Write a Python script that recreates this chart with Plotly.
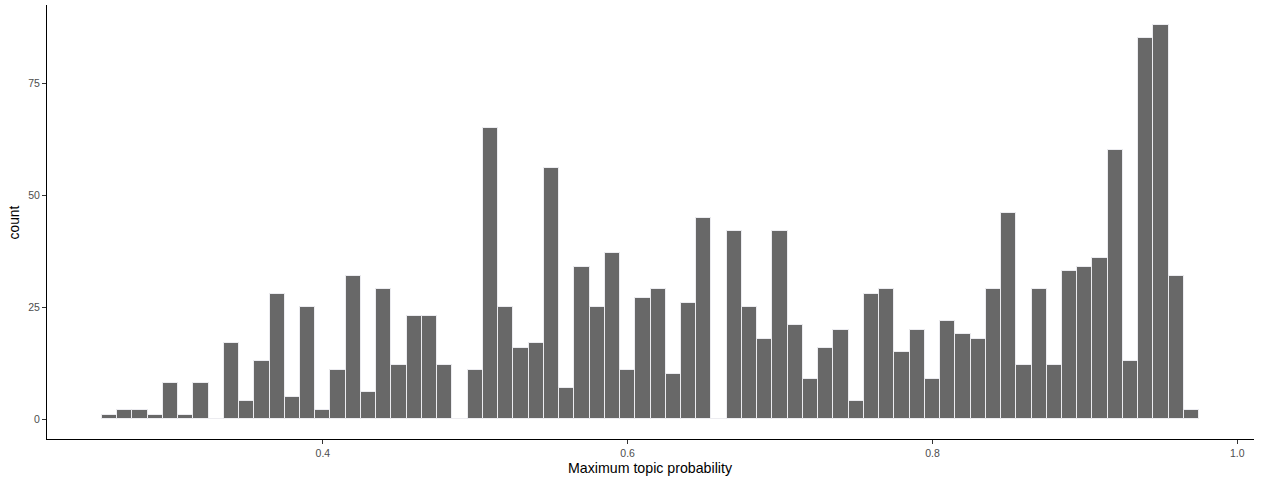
import plotly.graph_objects as go

# Bin centres (bin width 0.01) and counts
bin_centers = [0.26, 0.27, 0.28, 0.29, 0.30, 0.31, 0.32, 0.33, 0.34, 0.35,
               0.36, 0.37, 0.38, 0.39, 0.40, 0.41, 0.42, 0.43, 0.44, 0.45,
               0.46, 0.47, 0.48, 0.49, 0.50, 0.51, 0.52, 0.53, 0.54, 0.55,
               0.56, 0.57, 0.58, 0.59, 0.60, 0.61, 0.62, 0.63, 0.64, 0.65,
               0.66, 0.67, 0.68, 0.69, 0.70, 0.71, 0.72, 0.73, 0.74, 0.75,
               0.76, 0.77, 0.78, 0.79, 0.80, 0.81, 0.82, 0.83, 0.84, 0.85,
               0.86, 0.87, 0.88, 0.89, 0.90, 0.91, 0.92, 0.93, 0.94, 0.95,
               0.96, 0.97]
counts = [1, 2, 2, 1, 8, 1, 8, 0, 17, 4,
          13, 28, 5, 25, 2, 11, 32, 6, 29, 12,
          23, 23, 12, 0, 11, 65, 25, 16, 17, 56,
          7, 34, 25, 37, 11, 27, 29, 10, 26, 45,
          0, 42, 25, 18, 42, 21, 9, 16, 20, 4,
          28, 29, 15, 20, 9, 22, 19, 18, 29, 46,
          12, 29, 12, 33, 34, 36, 60, 13, 85, 88,
          32, 2]
bin_width = 0.01

x_ticks = [0.4, 0.6, 0.8, 1.0]
x_tick_text = ["0.4", "0.6", "0.8", "1.0"]
y_ticks = [0, 25, 50, 75]
y_tick_text = ["0", "25", "50", "75"]

x_title = "Maximum topic probability"
y_title = "count"

FONT = "Liberation Sans, Arial, Helvetica, sans-serif"

fig = go.Figure()
fig.add_trace(go.Bar(
    x=bin_centers,
    y=counts,
    width=bin_width,
    marker=dict(color="#686868", line=dict(color="#ECECF0", width=1)),
    hoverinfo="x+y",
    showlegend=False,
))

axis_common = dict(
    tickmode="array",
    ticks="outside",
    ticklen=4,
    tickwidth=1,
    tickcolor="#333333",
    tickfont=dict(family=FONT, size=10.5, color="#4D4D4D"),
    showline=True,
    linecolor="#000000",
    linewidth=1.1,
    showgrid=False,
    zeroline=False,
    automargin=False,
)

fig.update_layout(
    width=1262,
    height=477,
    autosize=False,
    margin=dict(l=47, r=8, t=5, b=38, pad=0, autoexpand=False),
    paper_bgcolor="white",
    plot_bgcolor="white",
    bargap=0,
    font=dict(family=FONT, color="#000000"),
    xaxis=dict(range=[0.219, 1.011], tickvals=x_ticks, ticktext=x_tick_text,
               **axis_common),
    yaxis=dict(range=[-4.4, 92.4], tickvals=y_ticks, ticktext=y_tick_text,
               **axis_common),
    annotations=[
        dict(text=x_title, xref="paper", yref="paper", x=0.5, y=-0.066,
             xanchor="center", yanchor="middle", showarrow=False,
             font=dict(family=FONT, size=14.2, color="#000000")),
        dict(text=y_title, xref="paper", yref="paper", x=-0.027, y=0.5,
             xanchor="center", yanchor="middle", showarrow=False, textangle=-90,
             font=dict(family=FONT, size=13.8, color="#000000")),
    ],
)

fig.write_html(
    "out.html",
    config={"displayModeBar": False},
    post_script="document.body.style.margin='0';document.body.style.padding='0';"
                "document.body.style.overflow='hidden';",
)
